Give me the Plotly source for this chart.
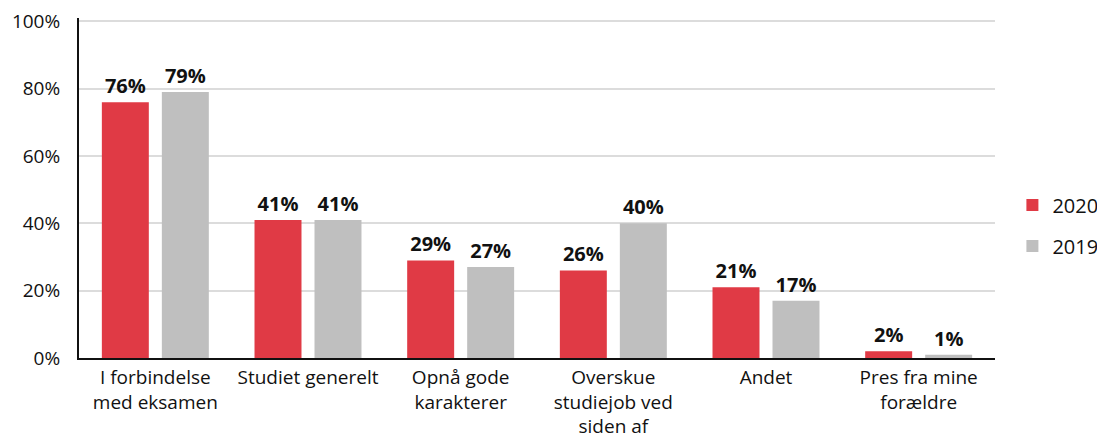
import plotly.graph_objects as go

categories = ["I forbindelse<br>med eksamen", "Studiet generelt", "Opnå gode<br>karakterer",
              "Overskue<br>studiejob ved<br>siden af", "Andet", "Pres fra mine<br>forældre"]
values_2020 = [76, 41, 29, 26, 21, 2]
values_2019 = [79, 41, 27, 40, 17, 1]
tick_vals = [0, 20, 40, 60, 80, 100]
tick_text = ["0%", "20%", "40%", "60%", "80%", "100%"]

FONT = "Open Sans, Lato, sans-serif"
RED = "#E03A45"
GRAY = "#BFBFBF"

fig = go.Figure()
for name, vals, col in [("2020", values_2020, RED), ("2019", values_2019, GRAY)]:
    fig.add_trace(go.Bar(
        x=categories, y=vals, name=name, legendgroup=name,
        marker=dict(color=col, line=dict(width=0)),
        text=[f"<b>{v}%</b>" for v in vals], textposition="outside",
        textfont=dict(family=FONT, size=20, color="#111111"), cliponaxis=False,
    ))

fig.update_layout(
    width=1105, height=440,
    margin=dict(l=71, r=118, t=10, b=90, autoexpand=False),
    paper_bgcolor="white", plot_bgcolor="white",
    barmode="group", bargap=0.214, bargroupgap=0.217,
    font=dict(family=FONT, size=19, color="#111111"),
    legend=dict(x=1.019, y=0.39, yanchor="middle", xanchor="left",
                font=dict(family=FONT, size=20), traceorder="grouped",
                itemwidth=30, tracegroupgap=12),
    showlegend=True,
)
fig.update_yaxes(range=[0, 101], tickvals=tick_vals, ticktext=tick_text,
                 showgrid=True, gridcolor="#DCDCDC", gridwidth=2,
                 showline=True, linecolor="#111111", linewidth=2,
                 ticks="", zeroline=False, tickfont=dict(family=FONT, size=19),
                 ticklabelstandoff=13, ticklabeloverflow="allow", automargin=False)
fig.update_xaxes(showline=True, linecolor="#111111", linewidth=2, ticks="",
                 tickfont=dict(family=FONT, size=19), tickangle=0,
                 ticklabelstandoff=1, automargin=False)

fig.write_html("out.html")
